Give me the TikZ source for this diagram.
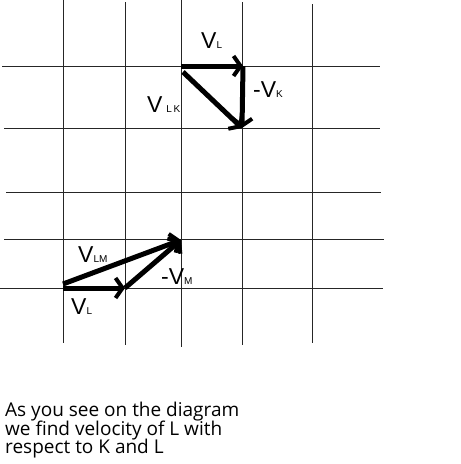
\documentclass[tikz,border=0pt]{standalone}
\usepackage{fontspec}
\setmainfont{Liberation Sans}
\newfontfamily\notefont{Open Sans}
\usetikzlibrary{arrows.meta}
\begin{document}
\begin{tikzpicture}[x=1pt,y=-1pt]

    \tikzstyle{gridline}=[draw=black!85, line width=0.9pt]
    \tikzstyle{vec}=[line width=5pt, -{Straight Barb[length=7pt, width=20pt, line width=4pt]}]
    \tikzstyle{vlabel}=[anchor=base west, inner sep=0pt, font=\fontsize{23}{23}\selectfont]
    \newcommand{\sublab}[1]{{\fontsize{10}{10}\selectfont #1}}

    \useasboundingbox[fill=white] (0,0) rectangle (461,464);

    % grid
    \draw[gridline] (63,0)  -- (63,343)
                    (125,2) -- (125,345)
                    (181,0) -- (181,347)
                    (242,2) -- (242,345)
                    (312,4) -- (312,343);
    \draw[gridline] (2,66)  -- (380,66)
                    (4,128) -- (380,128)
                    (6,192) -- (381,192)
                    (4,239) -- (384,239)
                    (0,288) -- (383,288);

    % upper triangle
    \coordinate (kA) at (181,66);
    \coordinate (kB) at (243,66);
    \coordinate (kC) at (242,128);
    \draw[vec] (kA) -- (kB);
    \draw[vec] (kB) -- (kC);
    \draw[vec] ([shift={(2,6)}]kA) -- (kC);

    % lower triangle
    \coordinate (mA) at (63,288);
    \coordinate (mB) at (125,288);
    \coordinate (mC) at (181,240);
    \draw[vec] (mA) -- (mB);
    \draw[vec] (mB) -- (mC);
    \draw[vec] ([shift={(0,-4)}]mA) -- (mC);

    % labels
    \node[vlabel] (lkL)  at (201,48)  {V\sublab{L}};
    \node[vlabel] (lkK)  at (253,97)  {-V\sublab{K}};
    \node[vlabel] (lkLK) at (147,112) {V\,\sublab{L\,K}};
    \node[vlabel] (lmLM) at (78,262)  {V\sublab{LM}};
    \node[vlabel] (lmM)  at (161,284) {-V\sublab{M}};
    \node[vlabel] (lmL)  at (71,314)  {V\sublab{L}};

    \node[anchor=north west, inner sep=0pt, align=left,
          font=\notefont\fontsize{19}{17.5}\selectfont] (note) at (5,402)
         {As you see on the diagram\\[-1.5pt]we find velocity of L with\\[-1.5pt]respect to K and L};
\end{tikzpicture}
\end{document}
